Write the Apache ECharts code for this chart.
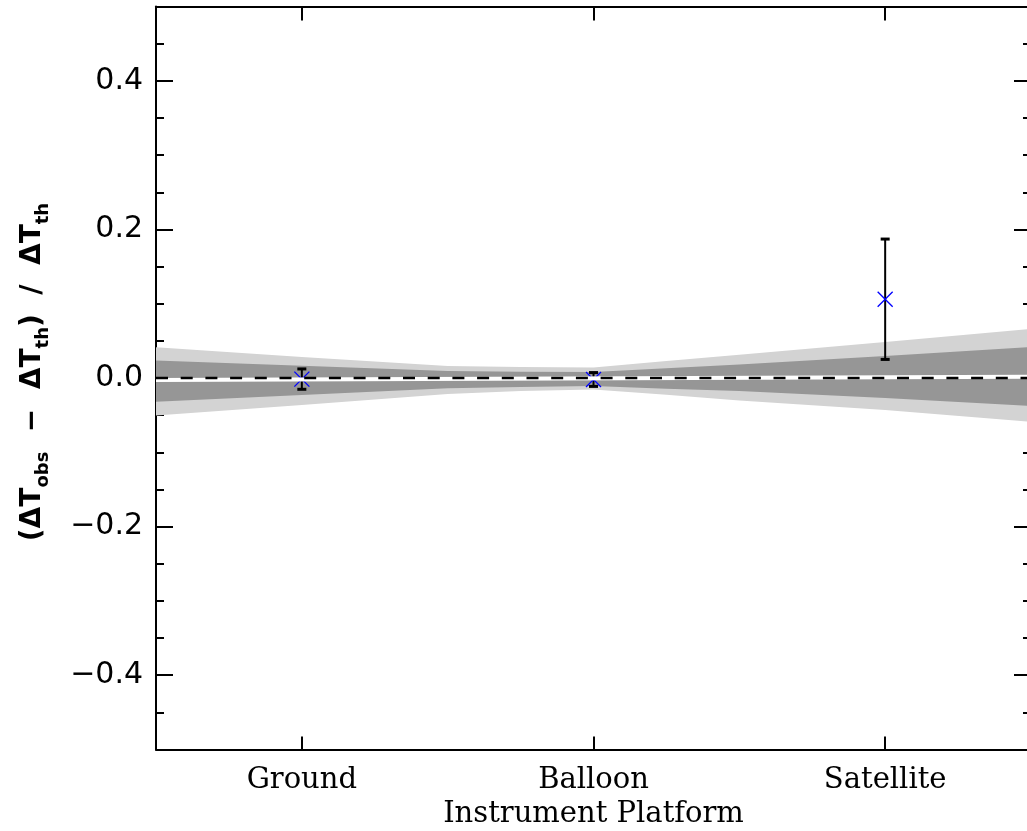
<!DOCTYPE html>
<html>
<head>
<meta charset="utf-8">
<script src="https://cdn.jsdelivr.net/npm/echarts@6/dist/echarts.min.js"></script>
<style>
html,body{margin:0;padding:0;background:#ffffff;}
#chart{width:1027px;height:831px;}
</style>
</head>
<body>
<div id="chart"></div>
<script>
// ---- data ----
const categories = ['Ground', 'Balloon', 'Satellite'];
const categoryX = [1, 2, 3];
const pointValues = [-0.0015, -0.002, 0.106];
const pointErrors = [0.0137, 0.0093, 0.081];

const bandX = [0.5, 1.0, 1.5, 1.75, 2.0, 2.25, 2.5, 3.0, 3.5];
const outerUpper = [0.0413, 0.0283, 0.0162, 0.0148, 0.0141, 0.0229, 0.0312, 0.0485, 0.0660];
const outerLower = [-0.0505, -0.0365, -0.0215, -0.0175, -0.0155, -0.0227, -0.0303, -0.0430, -0.0589];
const innerUpper = [0.0236, 0.0166, 0.0094, 0.0085, 0.0081, 0.0130, 0.0182, 0.0296, 0.0418];
const innerLower = [-0.0319, -0.0229, -0.0139, -0.0121, -0.0108, -0.0144, -0.0175, -0.0270, -0.0377];

const fitX = [0.5, 3.5];
const fitY = [-0.0027, 0.0018];
const zeroLineX = [0.5, 3.5];
const zeroLineY = [0, 0];

const yMajorTicks = [-0.4, -0.2, 0, 0.2, 0.4];
const yMinorTicks = [-0.45, -0.35, -0.3, -0.25, -0.15, -0.1, -0.05, 0.05, 0.1, 0.15, 0.25, 0.3, 0.35, 0.45];

// ---- chart ----
const chart = echarts.init(document.getElementById('chart'), null, {renderer: 'canvas'});

function bandSeries(upper, lower, color) {
  return {
    type: 'custom',
    silent: true,
    clip: true,
    xAxisIndex: 0,
    yAxisIndex: 0,
    data: bandX.map((x, i) => [x, lower[i], upper[i]]),
    encode: {x: 0, y: [1, 2]},
    renderItem: function (params, api) {
      if (params.dataIndex !== 0) return null;
      const pts = [];
      for (let i = 0; i < bandX.length; i++) pts.push(api.coord([bandX[i], upper[i]]));
      for (let i = bandX.length - 1; i >= 0; i--) pts.push(api.coord([bandX[i], lower[i]]));
      return {type: 'polygon', shape: {points: pts}, style: {fill: color, stroke: null}};
    }
  };
}

const axisLineStyle = {color: '#000', width: 2};
const tickLineStyle = {color: '#000', width: 2};

const yLabelFmt = v => {
  const r = Math.round(v * 10) / 10;
  return (r < 0 ? '\u2212' : '') + Math.abs(r).toFixed(1);
};

const option = {
  animation: false,
  backgroundColor: '#ffffff',
  grid: {left: 156, right: -4, top: 6.5, bottom: 81.5, containLabel: false, outerBoundsMode: 'none'},
  xAxis: [
    {
      type: 'value', min: 0.5, max: 3.5, position: 'bottom',
      axisLine: {show: true, onZero: false, lineStyle: axisLineStyle},
      axisTick: {show: true, inside: true, length: 13, customValues: categoryX, lineStyle: tickLineStyle},
      axisLabel: {
        show: true, customValues: categoryX, margin: 16,
        formatter: v => categories[categoryX.indexOf(Math.round(v))] || '',
        fontFamily: 'DejaVu Serif', fontSize: 29, color: '#000'
      },
      splitLine: {show: false},
      name: 'Instrument Platform', nameLocation: 'middle', nameGap: 50,
      nameTextStyle: {fontFamily: 'DejaVu Serif', fontSize: 29, color: '#000'}
    },
    {
      type: 'value', min: 0.5, max: 3.5, position: 'top',
      axisLine: {show: true, onZero: false, lineStyle: axisLineStyle},
      axisTick: {show: true, inside: true, length: 14, customValues: categoryX, lineStyle: tickLineStyle},
      axisLabel: {show: false},
      splitLine: {show: false}
    }
  ],
  yAxis: [
    {
      type: 'value', min: -0.5, max: 0.5, position: 'left',
      axisLine: {show: true, onZero: false, lineStyle: axisLineStyle},
      axisTick: {show: true, inside: true, length: 17, customValues: yMajorTicks, lineStyle: tickLineStyle},
      axisLabel: {
        show: true, customValues: yMajorTicks, margin: 13, formatter: yLabelFmt,
        fontFamily: 'DejaVu Sans', fontSize: 30, color: '#000'
      },
      splitLine: {show: false}
    },
    {
      type: 'value', min: -0.5, max: 0.5, position: 'left',
      axisLine: {show: false},
      axisTick: {show: true, inside: true, length: 8, customValues: yMinorTicks, lineStyle: tickLineStyle},
      axisLabel: {show: false},
      splitLine: {show: false}
    },
    {
      type: 'value', min: -0.5, max: 0.5, position: 'right',
      axisLine: {show: true, onZero: false, lineStyle: axisLineStyle},
      axisTick: {show: true, inside: true, length: 17, customValues: yMajorTicks, lineStyle: tickLineStyle},
      axisLabel: {show: false},
      splitLine: {show: false}
    },
    {
      type: 'value', min: -0.5, max: 0.5, position: 'right',
      axisLine: {show: false},
      axisTick: {show: true, inside: true, length: 8, customValues: yMinorTicks, lineStyle: tickLineStyle},
      axisLabel: {show: false},
      splitLine: {show: false}
    }
  ],
  graphic: [
    {
      type: 'text',
      x: 33, y: 372,
      rotation: Math.PI / 2,
      silent: true,
      style: {
        text: '{m|(\u0394T}{s|obs}{m|  \u2212  \u0394T}{s|th}{m|)  /  \u0394T}{s|th}',
        align: 'center',
        verticalAlign: 'middle',
        rich: {
          m: {fontFamily: 'DejaVu Sans', fontWeight: 'bold', fontSize: 28, fill: '#000', lineHeight: 38, verticalAlign: 'middle'},
          s: {fontFamily: 'DejaVu Sans', fontWeight: 'bold', fontSize: 18, fill: '#000', lineHeight: 18, verticalAlign: 'bottom'}
        }
      }
    }
  ],
  series: [
    bandSeries(outerUpper, outerLower, '#d3d3d3'),
    bandSeries(innerUpper, innerLower, '#969696'),
    {
      type: 'line', silent: true, symbol: 'none', xAxisIndex: 0, yAxisIndex: 0,
      data: fitX.map((x, i) => [x, fitY[i]]),
      lineStyle: {color: '#ffffff', width: 4}
    },
    {
      type: 'line', silent: true, symbol: 'none', xAxisIndex: 0, yAxisIndex: 0,
      data: zeroLineX.map((x, i) => [x, zeroLineY[i]]),
      lineStyle: {color: '#000000', width: 2.5, type: [12, 12.7]}
    },
    {
      type: 'custom', silent: true, xAxisIndex: 0, yAxisIndex: 0,
      data: categoryX.map((x, i) => [x, pointValues[i] - pointErrors[i], pointValues[i] + pointErrors[i]]),
      encode: {x: 0, y: [1, 2]},
      renderItem: function (params, api) {
        const lo = api.coord([api.value(0), api.value(1)]);
        const hi = api.coord([api.value(0), api.value(2)]);
        const cw = 4.5;
        return {
          type: 'group',
          children: [
            {type: 'line', shape: {x1: lo[0], y1: lo[1], x2: hi[0], y2: hi[1]}, style: {stroke: '#000', lineWidth: 2}},
            {type: 'line', shape: {x1: lo[0] - cw, y1: lo[1], x2: lo[0] + cw, y2: lo[1]}, style: {stroke: '#000', lineWidth: 3}},
            {type: 'line', shape: {x1: hi[0] - cw, y1: hi[1], x2: hi[0] + cw, y2: hi[1]}, style: {stroke: '#000', lineWidth: 3}}
          ]
        };
      }
    },
    {
      type: 'custom', silent: true, xAxisIndex: 0, yAxisIndex: 0,
      data: categoryX.map((x, i) => [x, pointValues[i]]),
      encode: {x: 0, y: 1},
      renderItem: function (params, api) {
        const c = api.coord([api.value(0), api.value(1)]);
        const h = 7.5;
        return {
          type: 'group',
          children: [
            {type: 'line', shape: {x1: c[0] - h, y1: c[1] - h, x2: c[0] + h, y2: c[1] + h}, style: {stroke: '#0000ff', lineWidth: 1.3}},
            {type: 'line', shape: {x1: c[0] - h, y1: c[1] + h, x2: c[0] + h, y2: c[1] - h}, style: {stroke: '#0000ff', lineWidth: 1.3}}
          ]
        };
      }
    }
  ]
};

chart.setOption(option);
</script>
</body>
</html>
